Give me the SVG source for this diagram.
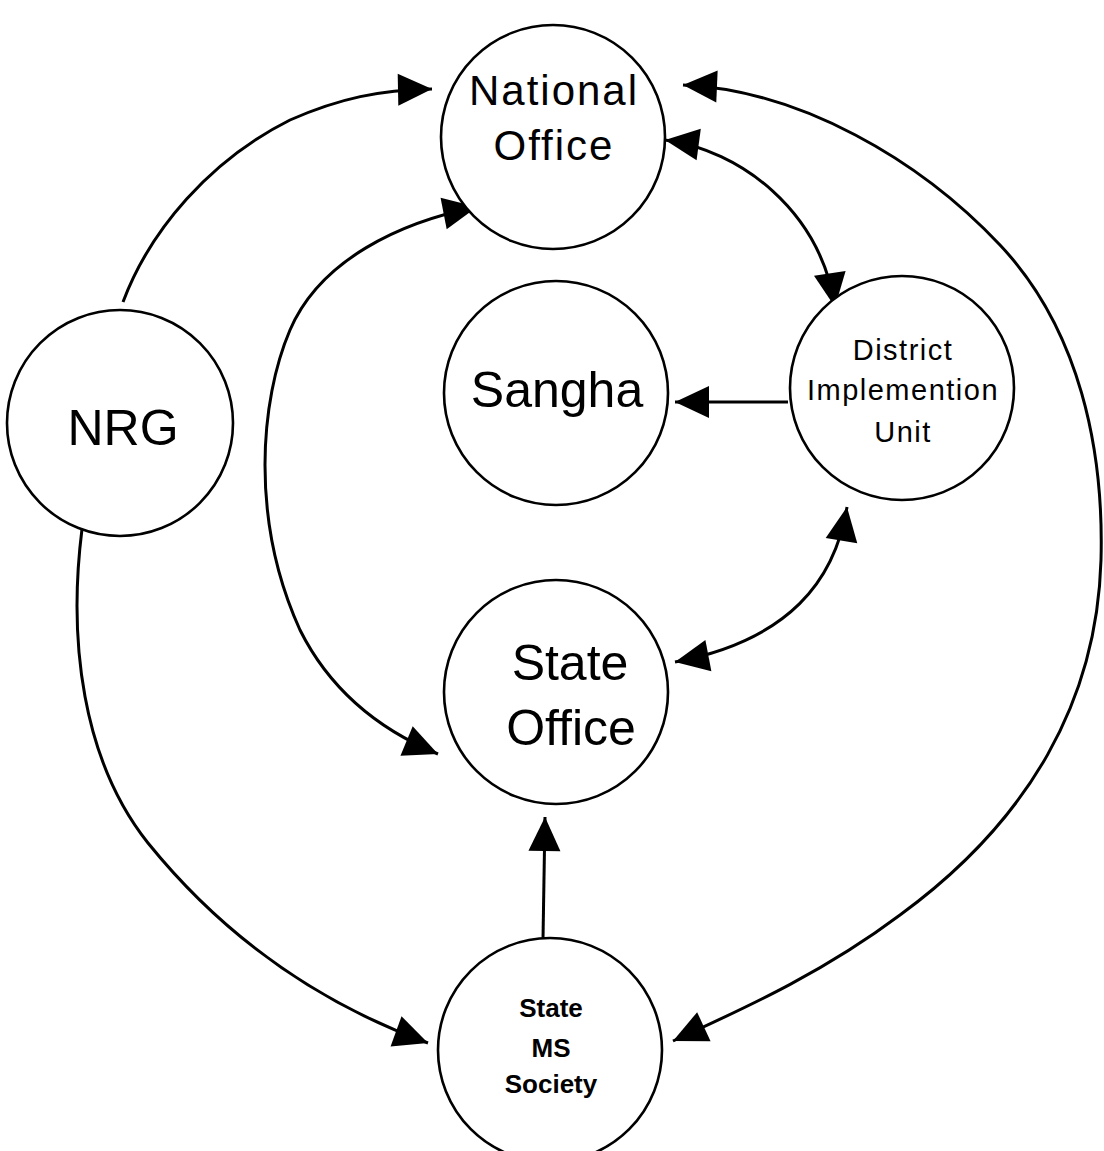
<svg xmlns="http://www.w3.org/2000/svg" width="1104" height="1151" viewBox="0 0 1104 1151">
  <style>
    .node circle { fill: #ffffff; stroke: #000000; stroke-width: 2.6; }
    .node text { font-family: "Liberation Sans", Arial, sans-serif; fill: #000000; text-anchor: middle; }
    .big { font-size: 50px; }
    .mid { font-size: 42px; letter-spacing: 2px; }
    .small { font-size: 29px; letter-spacing: 1.5px; }
    .tiny { font-size: 26px; font-weight: bold; }
    .conn path { fill: none; stroke: #000000; stroke-width: 3; }
  </style>
  <defs>
    <marker id="arrow" markerUnits="userSpaceOnUse" markerWidth="40" markerHeight="36" refX="34" refY="16" orient="auto-start-reverse" overflow="visible">
      <path d="M0,0 L34,16 L0,32 Z" fill="#000000"/>
    </marker>
  </defs>
  <rect x="0" y="0" width="1104" height="1151" fill="#ffffff"/>

  <g id="connectors" class="conn">
    <path id="nrg-national" d="M123,302 C150,230 210,160 290,120 C340,98 380,90 432,89" marker-end="url(#arrow)"/>
    <path id="nrg-statems" d="M82,529 C68,640 82,760 148,843 C220,932 310,1000 428,1043" marker-end="url(#arrow)"/>
    <path id="national-statems" d="M683,85 C800,90 920,160 1000,245 C1080,330 1104,450 1101,560 C1097,700 1030,820 900,915 C820,975 740,1010 673,1041" marker-start="url(#arrow)" marker-end="url(#arrow)"/>
    <path id="national-district" d="M665,140 C740,150 820,210 835,307" marker-start="url(#arrow)" marker-end="url(#arrow)"/>
    <path id="national-state" d="M477,207 C400,222 320,260 290,330 C260,400 250,520 300,630 C330,690 380,730 438,754" marker-start="url(#arrow)" marker-end="url(#arrow)"/>
    <path id="district-sangha" d="M788,402 L675,402" marker-end="url(#arrow)"/>
    <path id="district-state" d="M847,507 C835,580 790,640 675,662" marker-start="url(#arrow)" marker-end="url(#arrow)"/>
    <path id="statems-state" d="M543,939 L545,817" marker-end="url(#arrow)"/>
  </g>

  <g id="national-office" class="node">
    <circle cx="553" cy="137" r="112"/>
    <text class="mid" x="554" y="105">National</text>
    <text class="mid" x="554" y="160">Office</text>
  </g>

  <g id="nrg" class="node">
    <circle cx="120" cy="423" r="113"/>
    <text class="big" x="123" y="445">NRG</text>
  </g>

  <g id="sangha" class="node">
    <circle cx="556" cy="393" r="112"/>
    <text class="big" x="557" y="407">Sangha</text>
  </g>

  <g id="district" class="node">
    <circle cx="902" cy="388" r="112"/>
    <text class="small" x="903" y="360">District</text>
    <text class="small" x="903" y="400">Implemention</text>
    <text class="small" x="903" y="442">Unit</text>
  </g>

  <g id="state-office" class="node">
    <circle cx="556" cy="692" r="112"/>
    <text class="big" x="570" y="680">State</text>
    <text class="big" x="571" y="745">Office</text>
  </g>

  <g id="state-ms-society" class="node">
    <circle cx="550" cy="1050" r="112"/>
    <text class="tiny" x="551" y="1017">State</text>
    <text class="tiny" x="551" y="1057">MS</text>
    <text class="tiny" x="551" y="1093">Society</text>
  </g>
</svg>
